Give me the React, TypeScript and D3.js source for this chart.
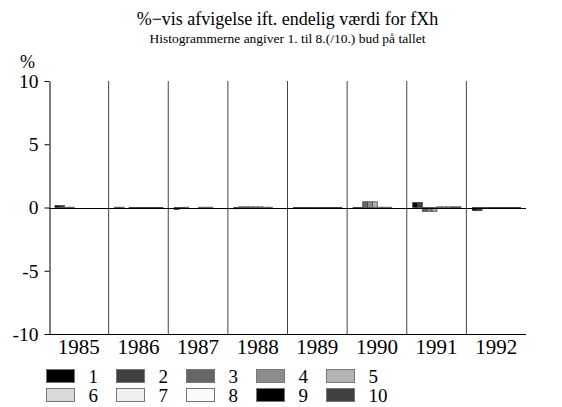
import * as d3 from 'd3';
import React, { FC, useEffect } from 'react';

const years = ['1985', '1986', '1987', '1988', '1989', '1990', '1991', '1992'];
const bids = ['1', '2', '3', '4', '5', '6', '7', '8', '9', '10'];
const yTicks = [-10, -5, 0, 5, 10];

// deviation in % per bid, one value per year
const bud1 = [0.15, 0.02, -0.15, -0.1, -0.05, -0.05, 0.4, -0.25];
const bud2 = [0.15, 0.02, -0.05, 0.05, -0.05, -0.05, 0.4, -0.25];
const bud3 = [0.02, 0.0, 0.02, 0.05, -0.05, 0.45, -0.3, -0.05];
const bud4 = [0.02, -0.05, 0.0, 0.05, -0.05, 0.45, -0.3, -0.05];
const bud5 = [0.0, -0.05, 0.0, 0.05, -0.05, 0.45, -0.3, -0.05];
const bud6 = [0.0, -0.05, 0.02, 0.05, -0.03, 0.02, 0.05, -0.05];
const bud7 = [0.0, -0.05, 0.02, 0.02, -0.03, 0.02, 0.05, -0.05];
const bud8 = [0.0, -0.05, 0.02, 0.02, -0.03, 0.02, 0.05, -0.05];
const bud9 = [0.0, -0.02, 0.0, 0.0, -0.02, 0.0, 0.05, -0.05];
const bud10 = [0.0, -0.02, 0.0, 0.0, -0.02, 0.0, 0.05, -0.05];

const budColors = ['#000000', '#404040', '#666666', '#8c8c8c', '#b3b3b3', '#d9d9d9', '#f0f0f0', '#fafafa', '#000000', '#404040'];

const FONT = '"Liberation Serif", "Times New Roman", serif';

export const DeviationChart: FC = () => {
	const containerDiv = React.useRef<HTMLDivElement>(null);
	const { height, width } = { height: 407, width: 562 };
	const margin = { top: 81, right: 36, bottom: 73, left: 49 };

	const draw = () => {
		const series = [bud1, bud2, bud3, bud4, bud5, bud6, bud7, bud8, bud9, bud10];
		const svg = d3
			.create('svg')
			.attr('width', width)
			.attr('height', height)
			.attr('viewBox', `0 0 ${width} ${height}`)
			.style('position', 'absolute')
			.style('left', '0px')
			.style('top', '0px')
			.style('font-family', FONT);

		const x: any = d3
			.scaleBand()
			.domain(years)
			.range([margin.left, width - margin.right]);
		const bw = x.bandwidth();
		const xInner: any = d3.scaleBand().domain(bids).range([bw * 0.1, bw * 0.91]);
		const y: any = d3
			.scaleLinear()
			.domain([-10, 10])
			.range([height - margin.bottom, margin.top]);

		const cx = (margin.left + width - margin.right) / 2;

		// titles
		svg.append('text')
			.attr('x', cx)
			.attr('y', 25)
			.attr('text-anchor', 'middle')
			.attr('font-size', 18)
			.text('%\u2212vis afvigelse ift. endelig værdi for fXh');
		svg.append('text')
			.attr('x', cx)
			.attr('y', 43)
			.attr('text-anchor', 'middle')
			.attr('font-size', 13.5)
			.text('Histogrammerne angiver 1. til 8.(/10.) bud på tallet');
		svg.append('text').attr('x', 20).attr('y', 68).attr('font-size', 18).text('%');

		// group separators
		svg.append('g')
			.selectAll('line')
			.data(years.slice(1))
			.join('line')
			.attr('x1', (d: any) => x(d))
			.attr('x2', (d: any) => x(d))
			.attr('y1', y(10))
			.attr('y2', y(-10))
			.attr('stroke', '#444')
			.attr('stroke-width', 1);

		// bars
		const flat: any[] = [];
		years.forEach((yr, i) => {
			series.forEach((s, j) => flat.push({ year: yr, bid: bids[j], value: s[i], color: budColors[j] }));
		});
		svg.append('g')
			.selectAll('rect')
			.data(flat)
			.join('rect')
			.attr('x', (d: any) => x(d.year) + xInner(d.bid))
			.attr('y', (d: any) => Math.min(y(d.value), y(0)))
			.attr('width', xInner.bandwidth())
			.attr('height', (d: any) => Math.abs(y(d.value) - y(0)))
			.attr('fill', (d: any) => d.color)
			.attr('stroke', '#444')
			.attr('stroke-width', 0.8);

		// zero line
		svg.append('line')
			.attr('x1', margin.left)
			.attr('x2', width - margin.right)
			.attr('y1', Math.round(y(0)) + 0.5)
			.attr('y2', Math.round(y(0)) + 0.5)
			.attr('stroke', '#000');

		// bottom axis line and year labels
		svg.append('line')
			.attr('x1', margin.left)
			.attr('x2', width - margin.right)
			.attr('y1', y(-10) + 0.5)
			.attr('y2', y(-10) + 0.5)
			.attr('stroke', '#000');
		svg.append('g')
			.selectAll('text')
			.data(years)
			.join('text')
			.attr('x', (d: any) => x(d) + bw / 2)
			.attr('y', 354)
			.attr('text-anchor', 'middle')
			.attr('font-size', 21)
			.text((d: any) => d);

		// y axis
		svg.append('g')
			.attr('transform', `translate(${margin.left + 0.5},0)`)
			.call(d3.axisLeft(y).tickValues(yTicks).tickSize(5).tickSizeOuter(0).tickPadding(6).tickFormat((d: any) => `${d}`))
			.call((g: any) => g.selectAll('text').attr('font-size', 19.5).attr('font-family', FONT).attr('fill', '#000'))
			.call((g: any) => g.attr('font-size', null).attr('font-family', null));

		// legend
		const legend = svg.append('g').attr('font-size', 19);
		const items = legend
			.selectAll('g')
			.data(bids)
			.join('g')
			.attr('transform', (d: any, i: number) => `translate(${46.5 + (i % 5) * 70},${369.5 + Math.floor(i / 5) * 19})`);
		items.append('rect')
			.attr('width', 28)
			.attr('height', 13)
			.attr('fill', (d: any, i: number) => budColors[i])
			.attr('stroke', '#777')
			.attr('stroke-width', 1);
		items.append('text')
			.attr('x', 42)
			.attr('y', 13.5)
			.text((d: any) => d);

		return svg.node();
	};

	useEffect(() => {
		const chart = draw();
		const container = containerDiv.current as HTMLDivElement;
		if (container && chart) {
			container.firstChild && container.removeChild(container.firstChild);
			container.appendChild(chart);
		}
	}, []);

	return <div ref={containerDiv}></div>;
};

export default function App() {
	return <DeviationChart />;
}
